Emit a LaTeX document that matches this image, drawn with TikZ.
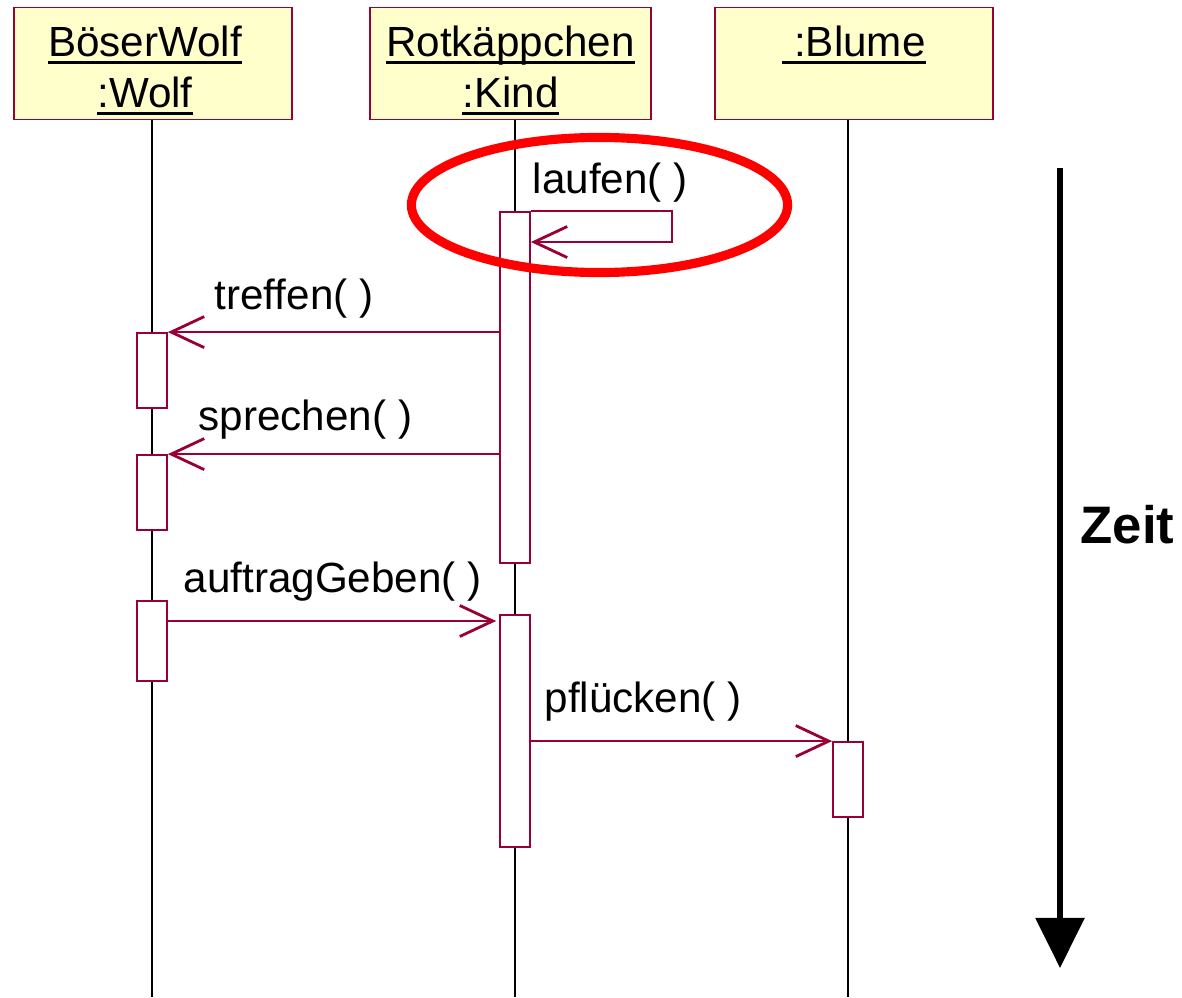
\documentclass[tikz,border=0pt]{standalone}
\usepackage{fontspec}
\setmainfont{Liberation Sans}
\usetikzlibrary{arrows.meta,calc}

\definecolor{umlfill}{RGB}{255,255,204}
\definecolor{umlline}{RGB}{153,0,51}
\newcommand{\objname}[1]{\leavevmode\setbox0\hbox{#1}\rlap{\rule[-2pt]{\wd0}{0.8pt}}\box0}
\newcommand{\hdline}{\rule{0pt}{12.8pt}}
\newcommand{\ftline}{\rule[-2pt]{0pt}{2pt}}

\tikzset{
  obj/.style={draw=umlline,fill=umlfill,line width=0.5pt,minimum width=2.78cm,minimum height=1.12cm,
    inner sep=0pt,align=center,font=\fontsize{12}{14.5}\selectfont},
  act/.style={draw=umlline,fill=white,line width=0.5pt,minimum width=0.3cm,inner sep=0pt},
  lifeline/.style={draw=black,line width=0.4pt},
  msg/.style={draw=umlline,line width=0.45pt,
    -{Straight Barb[length=0.33cm,width=0.31cm,line width=0.8pt]}},
  msglabel/.style={anchor=base west,inner sep=0pt,font=\fontsize{12}{14.5}\selectfont},
  circled/.style={draw=red,line width=2.6pt},
  timearrow/.style={draw=black,line width=1.6pt,-{Triangle[length=0.5cm,width=0.48cm]}}
}

\begin{document}
\begin{tikzpicture}[x=0.01cm,y=-0.01cm]
\useasboundingbox (0,0) rectangle (1182,997);
% the objects
\node[obj] (wolf) at (153,63.5) {\hdline\objname{BöserWolf}\hspace*{0.16cm}\\\objname{:Wolf}\hspace*{0.16cm}};
\node[obj,minimum width=2.81cm] (kind) at (510.5,63.5) {\hdline\objname{Rotkäppchen}\\\objname{:Kind}};
\node[obj] (blume) at (854,63.5) {\hdline\objname{\ :Blume}\\\mbox{}\ftline};

% lifelines
\coordinate (wL) at (152,0);
\coordinate (kL) at (515,0);
\coordinate (bL) at (848,0);
\coordinate (bot) at (0,997);
\draw[lifeline] (wolf.south -| wL) -- (wL |- bot);
\draw[lifeline] (kind.south -| kL) -- (kL |- bot);
\draw[lifeline] (blume.south -| bL) -- (bL |- bot);

% activations
\node[act,minimum height=3.51cm] (kA) at (515,387.5) {};
\node[act,minimum height=2.32cm] (kB) at (515,731) {};
\node[act,minimum height=0.75cm] (wA) at (152,370.5) {};
\node[act,minimum height=0.75cm] (wB) at (152,492.5) {};
\node[act,minimum height=0.80cm] (wC) at (152,641) {};
\node[act,minimum height=0.75cm] (bA) at (848,779.5) {};

% the messages
\draw[msg] (kA.north east) -- ++(141,0) -- ++(0,31) -- ($(kA.north east)+(0,31)$);
\node[msglabel] (laufen) at (532,193) {laufen( )};

\draw[msg] (kA.west |- wA.north) -- (wA.north east);
\node[msglabel] (treffen) at (214,309) {treffen( )};

\draw[msg] (kA.west |- wB.north) -- (wB.north east);
\node[msglabel] (sprechen) at (198,430) {sprechen( )};

\coordinate (ag) at (0,621);
\draw[msg,shorten >=0.03cm] (wC.east |- ag) -- (kB.west |- ag);
\node[msglabel] (auftrag) at (183,592) {auftragGeben( )};

\draw[msg] (kB.east |- bA.north) -- (bA.north west);
\node[msglabel] (pfluecken) at (544,712) {pflücken( )};

% the mark
\draw[circled] (599.5,205) ellipse [x radius=1.88cm,y radius=0.675cm];

% time axis
\coordinate (ztop) at (1060,168);
\coordinate (zbot) at (1060,968);
\draw[timearrow] (ztop) -- (zbot);
\node[anchor=base west,inner sep=0pt,font=\fontsize{15}{18}\selectfont\bfseries] (zeit) at (1080,543) {Zeit};
\end{tikzpicture}
\end{document}
